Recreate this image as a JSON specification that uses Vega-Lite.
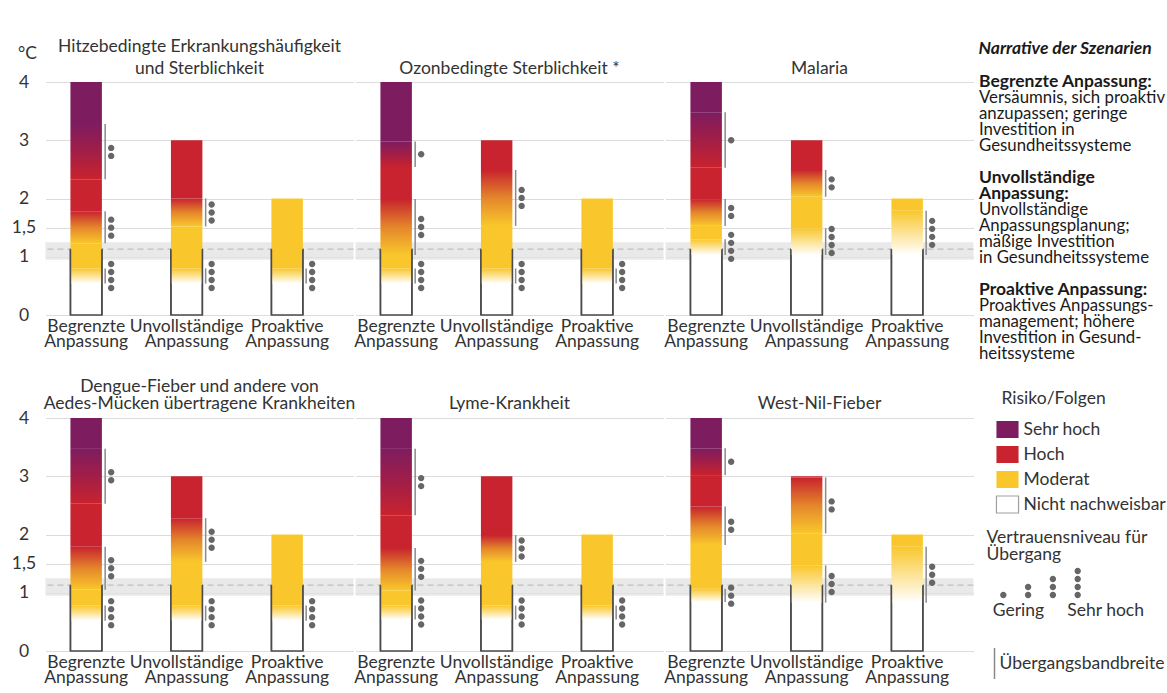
{
  "$schema": "https://vega.github.io/schema/vega-lite/v6.json",
  "padding": {"left": 10.5, "top": 37, "right": 0, "bottom": 0},
  "background": "white",
  "config": {
    "font": "Lato",
    "view": {"stroke": null},
    "axisX": {"domain": false, "ticks": false, "grid": false, "labelFontSize": 17.5, "labelColor": "#333333", "labelPadding": 1, "labelLineHeight": 15.5, "labelAngle": 0, "labelOverlap": false},
    "axisY": {"domain": false, "ticks": false, "grid": true, "gridColor": "#dcdcdc", "gridWidth": 1, "labelFontSize": 17.5, "labelColor": "#333333", "labelAlign": "center", "labelPadding": 21,
      "titleAngle": 0, "titleAlign": "left", "titleAnchor": "end", "titleBaseline": "alphabetic", "titleX": -27, "titleY": -24, "titleFontSize": 17.5, "titleFontWeight": "normal", "titleColor": "#333333"},
    "header": {"labelFont": "Lato", "labelFontSize": 17.5, "labelColor": "#333333", "labelBaseline": "bottom", "labelLimit": 0}
  },
  "resolve": {"scale": {"color": "independent", "shape": "independent", "stroke": "independent"}},
  "datasets": {
    "main": [
      {"k":"bar","r":1,"p":"Hitzebedingte Erkrankungshäufigkeit\nund Sterblichkeit","s":"Begrenzte Anpassung"},
      {"k":"bar","r":1,"p":"Hitzebedingte Erkrankungshäufigkeit\nund Sterblichkeit","s":"Unvollständige Anpassung"},
      {"k":"bar","r":1,"p":"Hitzebedingte Erkrankungshäufigkeit\nund Sterblichkeit","s":"Proaktive Anpassung"},
      {"k":"seg","r":1,"p":"Hitzebedingte Erkrankungshäufigkeit\nund Sterblichkeit","s":"Begrenzte Anpassung","lo":0.80,"hi":1.23,"c":"Moderat"},
      {"k":"seg","r":1,"p":"Hitzebedingte Erkrankungshäufigkeit\nund Sterblichkeit","s":"Begrenzte Anpassung","lo":1.78,"hi":2.33,"c":"Hoch"},
      {"k":"seg","r":1,"p":"Hitzebedingte Erkrankungshäufigkeit\nund Sterblichkeit","s":"Begrenzte Anpassung","lo":3.28,"hi":4,"c":"Sehr hoch"},
      {"k":"seg","r":1,"p":"Hitzebedingte Erkrankungshäufigkeit\nund Sterblichkeit","s":"Unvollständige Anpassung","lo":0.80,"hi":1.52,"c":"Moderat"},
      {"k":"seg","r":1,"p":"Hitzebedingte Erkrankungshäufigkeit\nund Sterblichkeit","s":"Unvollständige Anpassung","lo":2.0,"hi":3,"c":"Hoch"},
      {"k":"seg","r":1,"p":"Hitzebedingte Erkrankungshäufigkeit\nund Sterblichkeit","s":"Proaktive Anpassung","lo":0.80,"hi":2,"c":"Moderat"},
      {"k":"tr","r":1,"p":"Hitzebedingte Erkrankungshäufigkeit\nund Sterblichkeit","s":"Begrenzte Anpassung","typ":"W-Y","lo":0.54,"hi":0.80,"mid":0.67,"conf":4},
      {"k":"tr","r":1,"p":"Hitzebedingte Erkrankungshäufigkeit\nund Sterblichkeit","s":"Begrenzte Anpassung","typ":"Y-R","lo":1.23,"hi":1.78,"mid":1.5,"conf":3},
      {"k":"tr","r":1,"p":"Hitzebedingte Erkrankungshäufigkeit\nund Sterblichkeit","s":"Begrenzte Anpassung","typ":"R-P","lo":2.33,"hi":3.28,"mid":2.8,"conf":2},
      {"k":"tr","r":1,"p":"Hitzebedingte Erkrankungshäufigkeit\nund Sterblichkeit","s":"Unvollständige Anpassung","typ":"W-Y","lo":0.54,"hi":0.80,"mid":0.67,"conf":4},
      {"k":"tr","r":1,"p":"Hitzebedingte Erkrankungshäufigkeit\nund Sterblichkeit","s":"Unvollständige Anpassung","typ":"Y-R","lo":1.52,"hi":2.0,"mid":1.76,"conf":3},
      {"k":"tr","r":1,"p":"Hitzebedingte Erkrankungshäufigkeit\nund Sterblichkeit","s":"Proaktive Anpassung","typ":"W-Y","lo":0.54,"hi":0.80,"mid":0.67,"conf":4},

      {"k":"bar","r":1,"p":"Ozonbedingte Sterblichkeit *","s":"Begrenzte Anpassung"},
      {"k":"bar","r":1,"p":"Ozonbedingte Sterblichkeit *","s":"Unvollständige Anpassung"},
      {"k":"bar","r":1,"p":"Ozonbedingte Sterblichkeit *","s":"Proaktive Anpassung"},
      {"k":"seg","r":1,"p":"Ozonbedingte Sterblichkeit *","s":"Begrenzte Anpassung","lo":0.80,"hi":1.03,"c":"Moderat"},
      {"k":"seg","r":1,"p":"Ozonbedingte Sterblichkeit *","s":"Begrenzte Anpassung","lo":1.99,"hi":2.54,"c":"Hoch"},
      {"k":"seg","r":1,"p":"Ozonbedingte Sterblichkeit *","s":"Begrenzte Anpassung","lo":2.98,"hi":4,"c":"Sehr hoch"},
      {"k":"seg","r":1,"p":"Ozonbedingte Sterblichkeit *","s":"Unvollständige Anpassung","lo":0.80,"hi":1.53,"c":"Moderat"},
      {"k":"seg","r":1,"p":"Ozonbedingte Sterblichkeit *","s":"Unvollständige Anpassung","lo":2.49,"hi":3,"c":"Hoch"},
      {"k":"seg","r":1,"p":"Ozonbedingte Sterblichkeit *","s":"Proaktive Anpassung","lo":0.80,"hi":2,"c":"Moderat"},
      {"k":"tr","r":1,"p":"Ozonbedingte Sterblichkeit *","s":"Begrenzte Anpassung","typ":"W-Y","lo":0.54,"hi":0.80,"mid":0.67,"conf":4},
      {"k":"tr","r":1,"p":"Ozonbedingte Sterblichkeit *","s":"Begrenzte Anpassung","typ":"Y-R","lo":1.03,"hi":1.99,"mid":1.51,"conf":3},
      {"k":"tr","r":1,"p":"Ozonbedingte Sterblichkeit *","s":"Begrenzte Anpassung","typ":"R-P","lo":2.54,"hi":2.98,"mid":2.76,"conf":1},
      {"k":"tr","r":1,"p":"Ozonbedingte Sterblichkeit *","s":"Unvollständige Anpassung","typ":"W-Y","lo":0.54,"hi":0.80,"mid":0.67,"conf":4},
      {"k":"tr","r":1,"p":"Ozonbedingte Sterblichkeit *","s":"Unvollständige Anpassung","typ":"Y-R","lo":1.53,"hi":2.49,"mid":2.01,"conf":3},
      {"k":"tr","r":1,"p":"Ozonbedingte Sterblichkeit *","s":"Proaktive Anpassung","typ":"W-Y","lo":0.54,"hi":0.80,"mid":0.67,"conf":4},

      {"k":"bar","r":1,"p":"Malaria","s":"Begrenzte Anpassung"},
      {"k":"bar","r":1,"p":"Malaria","s":"Unvollständige Anpassung"},
      {"k":"bar","r":1,"p":"Malaria","s":"Proaktive Anpassung"},
      {"k":"seg","r":1,"p":"Malaria","s":"Begrenzte Anpassung","lo":1.30,"hi":1.53,"c":"Moderat"},
      {"k":"seg","r":1,"p":"Malaria","s":"Begrenzte Anpassung","lo":1.99,"hi":2.53,"c":"Hoch"},
      {"k":"seg","r":1,"p":"Malaria","s":"Begrenzte Anpassung","lo":3.48,"hi":4,"c":"Sehr hoch"},
      {"k":"seg","r":1,"p":"Malaria","s":"Unvollständige Anpassung","lo":1.49,"hi":2.03,"c":"Moderat"},
      {"k":"seg","r":1,"p":"Malaria","s":"Unvollständige Anpassung","lo":2.49,"hi":3,"c":"Hoch"},
      {"k":"seg","r":1,"p":"Malaria","s":"Proaktive Anpassung","lo":1.79,"hi":2,"c":"Moderat"},
      {"k":"tr","r":1,"p":"Malaria","s":"Begrenzte Anpassung","typ":"W-Y","lo":1.03,"hi":1.30,"mid":1.17,"conf":4},
      {"k":"tr","r":1,"p":"Malaria","s":"Begrenzte Anpassung","typ":"Y-R","lo":1.53,"hi":1.99,"mid":1.77,"conf":2},
      {"k":"tr","r":1,"p":"Malaria","s":"Begrenzte Anpassung","typ":"R-P","lo":2.53,"hi":3.48,"mid":3.0,"conf":1},
      {"k":"tr","r":1,"p":"Malaria","s":"Unvollständige Anpassung","typ":"W-Y","lo":1.03,"hi":1.49,"mid":1.27,"conf":4},
      {"k":"tr","r":1,"p":"Malaria","s":"Unvollständige Anpassung","typ":"Y-R","lo":2.03,"hi":2.49,"mid":2.26,"conf":2},
      {"k":"tr","r":1,"p":"Malaria","s":"Proaktive Anpassung","typ":"W-Y","lo":1.03,"hi":1.79,"mid":1.41,"conf":4},

      {"k":"bar","r":2,"p":"Dengue-Fieber und andere von\nAedes-Mücken übertragene Krankheiten","s":"Begrenzte Anpassung"},
      {"k":"bar","r":2,"p":"Dengue-Fieber und andere von\nAedes-Mücken übertragene Krankheiten","s":"Unvollständige Anpassung"},
      {"k":"bar","r":2,"p":"Dengue-Fieber und andere von\nAedes-Mücken übertragene Krankheiten","s":"Proaktive Anpassung"},
      {"k":"seg","r":2,"p":"Dengue-Fieber und andere von\nAedes-Mücken übertragene Krankheiten","s":"Begrenzte Anpassung","lo":0.78,"hi":1.05,"c":"Moderat"},
      {"k":"seg","r":2,"p":"Dengue-Fieber und andere von\nAedes-Mücken übertragene Krankheiten","s":"Begrenzte Anpassung","lo":1.79,"hi":2.53,"c":"Hoch"},
      {"k":"seg","r":2,"p":"Dengue-Fieber und andere von\nAedes-Mücken übertragene Krankheiten","s":"Begrenzte Anpassung","lo":3.47,"hi":4,"c":"Sehr hoch"},
      {"k":"seg","r":2,"p":"Dengue-Fieber und andere von\nAedes-Mücken übertragene Krankheiten","s":"Unvollständige Anpassung","lo":0.78,"hi":1.53,"c":"Moderat"},
      {"k":"seg","r":2,"p":"Dengue-Fieber und andere von\nAedes-Mücken übertragene Krankheiten","s":"Unvollständige Anpassung","lo":2.28,"hi":3,"c":"Hoch"},
      {"k":"seg","r":2,"p":"Dengue-Fieber und andere von\nAedes-Mücken übertragene Krankheiten","s":"Proaktive Anpassung","lo":0.78,"hi":2,"c":"Moderat"},
      {"k":"tr","r":2,"p":"Dengue-Fieber und andere von\nAedes-Mücken übertragene Krankheiten","s":"Begrenzte Anpassung","typ":"W-Y","lo":0.52,"hi":0.78,"mid":0.65,"conf":4},
      {"k":"tr","r":2,"p":"Dengue-Fieber und andere von\nAedes-Mücken übertragene Krankheiten","s":"Begrenzte Anpassung","typ":"Y-R","lo":1.05,"hi":1.79,"mid":1.42,"conf":3},
      {"k":"tr","r":2,"p":"Dengue-Fieber und andere von\nAedes-Mücken übertragene Krankheiten","s":"Begrenzte Anpassung","typ":"R-P","lo":2.53,"hi":3.47,"mid":3.0,"conf":2},
      {"k":"tr","r":2,"p":"Dengue-Fieber und andere von\nAedes-Mücken übertragene Krankheiten","s":"Unvollständige Anpassung","typ":"W-Y","lo":0.52,"hi":0.78,"mid":0.65,"conf":4},
      {"k":"tr","r":2,"p":"Dengue-Fieber und andere von\nAedes-Mücken übertragene Krankheiten","s":"Unvollständige Anpassung","typ":"Y-R","lo":1.53,"hi":2.28,"mid":1.91,"conf":3},
      {"k":"tr","r":2,"p":"Dengue-Fieber und andere von\nAedes-Mücken übertragene Krankheiten","s":"Proaktive Anpassung","typ":"W-Y","lo":0.52,"hi":0.78,"mid":0.65,"conf":4},

      {"k":"bar","r":2,"p":"Lyme-Krankheit","s":"Begrenzte Anpassung"},
      {"k":"bar","r":2,"p":"Lyme-Krankheit","s":"Unvollständige Anpassung"},
      {"k":"bar","r":2,"p":"Lyme-Krankheit","s":"Proaktive Anpassung"},
      {"k":"seg","r":2,"p":"Lyme-Krankheit","s":"Begrenzte Anpassung","lo":0.78,"hi":1.04,"c":"Moderat"},
      {"k":"seg","r":2,"p":"Lyme-Krankheit","s":"Begrenzte Anpassung","lo":1.77,"hi":2.33,"c":"Hoch"},
      {"k":"seg","r":2,"p":"Lyme-Krankheit","s":"Begrenzte Anpassung","lo":3.47,"hi":4,"c":"Sehr hoch"},
      {"k":"seg","r":2,"p":"Lyme-Krankheit","s":"Unvollständige Anpassung","lo":0.78,"hi":1.53,"c":"Moderat"},
      {"k":"seg","r":2,"p":"Lyme-Krankheit","s":"Unvollständige Anpassung","lo":1.99,"hi":3,"c":"Hoch"},
      {"k":"seg","r":2,"p":"Lyme-Krankheit","s":"Proaktive Anpassung","lo":0.78,"hi":2,"c":"Moderat"},
      {"k":"tr","r":2,"p":"Lyme-Krankheit","s":"Begrenzte Anpassung","typ":"W-Y","lo":0.54,"hi":0.78,"mid":0.66,"conf":4},
      {"k":"tr","r":2,"p":"Lyme-Krankheit","s":"Begrenzte Anpassung","typ":"Y-R","lo":1.04,"hi":1.77,"mid":1.41,"conf":3},
      {"k":"tr","r":2,"p":"Lyme-Krankheit","s":"Begrenzte Anpassung","typ":"R-P","lo":2.33,"hi":3.47,"mid":2.9,"conf":2},
      {"k":"tr","r":2,"p":"Lyme-Krankheit","s":"Unvollständige Anpassung","typ":"W-Y","lo":0.54,"hi":0.78,"mid":0.66,"conf":4},
      {"k":"tr","r":2,"p":"Lyme-Krankheit","s":"Unvollständige Anpassung","typ":"Y-R","lo":1.53,"hi":1.99,"mid":1.76,"conf":3},
      {"k":"tr","r":2,"p":"Lyme-Krankheit","s":"Proaktive Anpassung","typ":"W-Y","lo":0.54,"hi":0.78,"mid":0.66,"conf":4},

      {"k":"bar","r":2,"p":"West-Nil-Fieber","s":"Begrenzte Anpassung"},
      {"k":"bar","r":2,"p":"West-Nil-Fieber","s":"Unvollständige Anpassung"},
      {"k":"bar","r":2,"p":"West-Nil-Fieber","s":"Proaktive Anpassung"},
      {"k":"seg","r":2,"p":"West-Nil-Fieber","s":"Begrenzte Anpassung","lo":1.07,"hi":1.82,"c":"Moderat"},
      {"k":"seg","r":2,"p":"West-Nil-Fieber","s":"Begrenzte Anpassung","lo":2.48,"hi":3.02,"c":"Hoch"},
      {"k":"seg","r":2,"p":"West-Nil-Fieber","s":"Begrenzte Anpassung","lo":3.48,"hi":4,"c":"Sehr hoch"},
      {"k":"seg","r":2,"p":"West-Nil-Fieber","s":"Unvollständige Anpassung","lo":1.47,"hi":2.02,"c":"Moderat"},
      {"k":"seg","r":2,"p":"West-Nil-Fieber","s":"Unvollständige Anpassung","lo":2.98,"hi":3,"c":"Hoch"},
      {"k":"seg","r":2,"p":"West-Nil-Fieber","s":"Proaktive Anpassung","lo":1.79,"hi":2,"c":"Moderat"},
      {"k":"tr","r":2,"p":"West-Nil-Fieber","s":"Begrenzte Anpassung","typ":"W-Y","lo":0.84,"hi":1.07,"mid":0.95,"conf":3},
      {"k":"tr","r":2,"p":"West-Nil-Fieber","s":"Begrenzte Anpassung","typ":"Y-R","lo":1.82,"hi":2.48,"mid":2.15,"conf":2},
      {"k":"tr","r":2,"p":"West-Nil-Fieber","s":"Begrenzte Anpassung","typ":"R-P","lo":3.02,"hi":3.48,"mid":3.25,"conf":1},
      {"k":"tr","r":2,"p":"West-Nil-Fieber","s":"Unvollständige Anpassung","typ":"W-Y","lo":0.83,"hi":1.47,"mid":1.15,"conf":3},
      {"k":"tr","r":2,"p":"West-Nil-Fieber","s":"Unvollständige Anpassung","typ":"Y-R","lo":2.02,"hi":2.98,"mid":2.5,"conf":2},
      {"k":"tr","r":2,"p":"West-Nil-Fieber","s":"Proaktive Anpassung","typ":"W-Y","lo":0.83,"hi":1.79,"mid":1.31,"conf":3}
    ],
    "narr": [
      {"n":2,"w":"b","t":"Begrenzte Anpassung:"},
      {"n":3,"w":"t","t":"Versäumnis, sich proaktiv"},
      {"n":4,"w":"t","t":"anzupassen; geringe"},
      {"n":5,"w":"t","t":"Investition in"},
      {"n":6,"w":"t","t":"Gesundheitssysteme"},
      {"n":8,"w":"b","t":"Unvollständige"},
      {"n":9,"w":"b","t":"Anpassung:"},
      {"n":10,"w":"t","t":"Unvollständige"},
      {"n":11,"w":"t","t":"Anpassungsplanung;"},
      {"n":12,"w":"t","t":"mäßige Investition"},
      {"n":13,"w":"t","t":"in Gesundheitssysteme"},
      {"n":15,"w":"b","t":"Proaktive Anpassung:"},
      {"n":16,"w":"t","t":"Proaktives Anpassungs-"},
      {"n":17,"w":"t","t":"management; höhere"},
      {"n":18,"w":"t","t":"Investition in Gesund-"},
      {"n":19,"w":"t","t":"heitssysteme"}
    ]
  },
  "spacing": 4,
  "hconcat": [
    {
      "spacing": 27,
      "vconcat": [
        {
          "data": {"name": "main"},
          "transform": [{"filter": "datum.r == 1"}],
          "facet": {"column": {"field": "p", "type": "nominal", "title": null,
            "sort": ["Hitzebedingte Erkrankungshäufigkeit\nund Sterblichkeit", "Ozonbedingte Sterblichkeit *", "Malaria"],
            "header": {"labelExpr": "split(datum.value, '\\n')", "labelLineHeight": 22, "labelPadding": -13}}},
          "spacing": 0,
          "spec": {
            "width": 308,
            "height": 233,
            "layer": [
              {
                "transform": [{"filter": "datum.k == 'bar' && datum.s == 'Begrenzte Anpassung'"}],
                "mark": {"type": "rect", "fill": "#e2e2e2", "fillOpacity": 0.75},
                "encoding": {
                  "y": {"datum": 0.95, "type": "quantitative", "scale": {"domain": [0, 4], "nice": false}, "title": "°C", "axis": {"values": [0, 1, 1.5, 2, 3, 4], "format": "~g", "labelExpr": "replace(datum.label, '.', ',')"}},
                  "y2": {"datum": 1.25}
                }
              },
              {
                "transform": [{"filter": "datum.k == 'bar' && datum.s == 'Begrenzte Anpassung'"}],
                "mark": {"type": "rule", "stroke": "#c0c0c0", "strokeWidth": 1.2, "strokeDash": [6, 4]},
                "encoding": {
                  "y": {"datum": 1.13, "type": "quantitative", "scale": {"domain": [0, 4], "nice": false}, "title": "°C", "axis": {"values": [0, 1, 1.5, 2, 3, 4], "format": "~g", "labelExpr": "replace(datum.label, '.', ',')"}}
                }
              },
              {
                "encoding": {
                  "x": {"field": "s", "type": "nominal", "title": null,
                    "sort": ["Begrenzte Anpassung", "Unvollständige Anpassung", "Proaktive Anpassung"],
                    "scale": {"paddingInner": 0.687, "paddingOuter": 0.376, "align": 0.33},
                    "axis": {"labelExpr": "split(datum.label, ' ')"}}
                },
                "layer": [
                  {
                    "transform": [{"filter": "datum.k == 'bar'"}],
                    "mark": {"type": "bar", "fill": "#ffffff", "stroke": "#4a4a4a", "strokeWidth": 1.5},
                    "encoding": {
                      "y": {"datum": 0, "type": "quantitative", "scale": {"domain": [0, 4], "nice": false}, "title": "°C", "axis": {"values": [0, 1, 1.5, 2, 3, 4], "format": "~g", "labelExpr": "replace(datum.label, '.', ',')"}},
                      "y2": {"datum": 1.13}
                    }
                  },
                  {
                    "transform": [{"filter": "datum.k == 'seg'"}],
                    "mark": {"type": "bar"},
                    "encoding": {
                      "y": {"field": "lo", "type": "quantitative", "scale": {"domain": [0, 4], "nice": false}, "title": "°C", "axis": {"values": [0, 1, 1.5, 2, 3, 4], "format": "~g", "labelExpr": "replace(datum.label, '.', ',')"}},
                      "y2": {"field": "hi"},
                      "color": {"field": "c", "type": "nominal", "legend": null,
                        "scale": {"domain": ["Sehr hoch", "Hoch", "Moderat", "Nicht nachweisbar"], "range": ["#7e1c60", "#c8232e", "#f9c72c", "#ffffff"]}}
                    }
                  },
                  {
                    "transform": [{"filter": "datum.k == 'tr' && datum.typ == 'W-Y'"}],
                    "mark": {"type": "bar", "fill": {"gradient": "linear", "x1": 0, "y1": 1, "x2": 0, "y2": 0, "stops": [{"offset": 0, "color": "#ffffff"}, {"offset": 1, "color": "#f9c72c"}]}},
                    "encoding": {
                      "y": {"field": "lo", "type": "quantitative", "scale": {"domain": [0, 4], "nice": false}, "title": "°C", "axis": {"values": [0, 1, 1.5, 2, 3, 4], "format": "~g", "labelExpr": "replace(datum.label, '.', ',')"}},
                      "y2": {"field": "hi"}
                    }
                  },
                  {
                    "transform": [{"filter": "datum.k == 'tr' && datum.typ == 'Y-R'"}],
                    "mark": {"type": "bar", "fill": {"gradient": "linear", "x1": 0, "y1": 1, "x2": 0, "y2": 0, "stops": [{"offset": 0, "color": "#f9c72c"}, {"offset": 0.5, "color": "#e4862b"}, {"offset": 1, "color": "#c8232e"}]}},
                    "encoding": {
                      "y": {"field": "lo", "type": "quantitative", "scale": {"domain": [0, 4], "nice": false}, "title": "°C", "axis": {"values": [0, 1, 1.5, 2, 3, 4], "format": "~g", "labelExpr": "replace(datum.label, '.', ',')"}},
                      "y2": {"field": "hi"}
                    }
                  },
                  {
                    "transform": [{"filter": "datum.k == 'tr' && datum.typ == 'R-P'"}],
                    "mark": {"type": "bar", "fill": {"gradient": "linear", "x1": 0, "y1": 1, "x2": 0, "y2": 0, "stops": [{"offset": 0, "color": "#c8232e"}, {"offset": 0.5, "color": "#a21e47"}, {"offset": 1, "color": "#7e1c60"}]}},
                    "encoding": {
                      "y": {"field": "lo", "type": "quantitative", "scale": {"domain": [0, 4], "nice": false}, "title": "°C", "axis": {"values": [0, 1, 1.5, 2, 3, 4], "format": "~g", "labelExpr": "replace(datum.label, '.', ',')"}},
                      "y2": {"field": "hi"}
                    }
                  },
                  {
                    "transform": [{"filter": "datum.k == 'bar'"}],
                    "mark": {"type": "rule", "stroke": "#4a4a4a", "strokeWidth": 1.5, "xOffset": -15.7},
                    "encoding": {
                      "y": {"datum": 0, "type": "quantitative", "scale": {"domain": [0, 4], "nice": false}, "title": "°C", "axis": {"values": [0, 1, 1.5, 2, 3, 4], "format": "~g", "labelExpr": "replace(datum.label, '.', ',')"}},
                      "y2": {"datum": 1.13}
                    }
                  },
                  {
                    "transform": [{"filter": "datum.k == 'bar'"}],
                    "mark": {"type": "rule", "stroke": "#4a4a4a", "strokeWidth": 1.5, "xOffset": 15.7},
                    "encoding": {
                      "y": {"datum": 0, "type": "quantitative", "scale": {"domain": [0, 4], "nice": false}, "title": "°C", "axis": {"values": [0, 1, 1.5, 2, 3, 4], "format": "~g", "labelExpr": "replace(datum.label, '.', ',')"}},
                      "y2": {"datum": 1.13}
                    }
                  },
                  {
                    "transform": [{"filter": "datum.k == 'tr'"}],
                    "mark": {"type": "rule", "stroke": "#8a8a8a", "strokeWidth": 1.5, "xOffset": 19},
                    "encoding": {
                      "y": {"field": "lo", "type": "quantitative", "scale": {"domain": [0, 4], "nice": false}, "title": "°C", "axis": {"values": [0, 1, 1.5, 2, 3, 4], "format": "~g", "labelExpr": "replace(datum.label, '.', ',')"}},
                      "y2": {"field": "hi"}
                    }
                  },
                  {
                    "transform": [{"filter": "datum.k == 'tr'"}],
                    "mark": {"type": "point", "filled": true, "opacity": 1, "fill": "#666666", "strokeWidth": 0, "size": 64, "xOffset": 25},
                    "encoding": {
                      "y": {"field": "mid", "type": "quantitative", "scale": {"domain": [0, 4], "nice": false}, "title": "°C", "axis": {"values": [0, 1, 1.5, 2, 3, 4], "format": "~g", "labelExpr": "replace(datum.label, '.', ',')"}},
                      "shape": {"field": "conf", "type": "ordinal", "legend": null,
                        "scale": {"domain": [1, 2, 3, 4], "range": [
                          "M-0.8,0A0.8,0.8,0,1,0,0.8,0A0.8,0.8,0,1,0,-0.8,0Z",
                          "M-0.8,-1A0.8,0.8,0,1,0,0.8,-1A0.8,0.8,0,1,0,-0.8,-1ZM-0.8,1A0.8,0.8,0,1,0,0.8,1A0.8,0.8,0,1,0,-0.8,1Z",
                          "M-0.8,-2A0.8,0.8,0,1,0,0.8,-2A0.8,0.8,0,1,0,-0.8,-2ZM-0.8,0A0.8,0.8,0,1,0,0.8,0A0.8,0.8,0,1,0,-0.8,0ZM-0.8,2A0.8,0.8,0,1,0,0.8,2A0.8,0.8,0,1,0,-0.8,2Z",
                          "M-0.8,-3A0.8,0.8,0,1,0,0.8,-3A0.8,0.8,0,1,0,-0.8,-3ZM-0.8,-1A0.8,0.8,0,1,0,0.8,-1A0.8,0.8,0,1,0,-0.8,-1ZM-0.8,1A0.8,0.8,0,1,0,0.8,1A0.8,0.8,0,1,0,-0.8,1ZM-0.8,3A0.8,0.8,0,1,0,0.8,3A0.8,0.8,0,1,0,-0.8,3Z"
                        ]}}
                    }
                  }
                ]
              }
            ]
          }
        },
        {
          "data": {"name": "main"},
          "transform": [{"filter": "datum.r == 2"}],
          "facet": {"column": {"field": "p", "type": "nominal", "title": null,
            "sort": ["Dengue-Fieber und andere von\nAedes-Mücken übertragene Krankheiten", "Lyme-Krankheit", "West-Nil-Fieber"],
            "header": {"labelExpr": "split(datum.value, '\\n')", "labelLineHeight": 17, "labelPadding": -12}}},
          "spacing": 0,
          "spec": {
            "width": 308,
            "height": 233,
            "layer": [
              {
                "transform": [{"filter": "datum.k == 'bar' && datum.s == 'Begrenzte Anpassung'"}],
                "mark": {"type": "rect", "fill": "#e2e2e2", "fillOpacity": 0.75},
                "encoding": {
                  "y": {"datum": 0.95, "type": "quantitative", "scale": {"domain": [0, 4], "nice": false}, "title": null, "axis": {"values": [0, 1, 1.5, 2, 3, 4], "format": "~g", "labelExpr": "replace(datum.label, '.', ',')"}},
                  "y2": {"datum": 1.25}
                }
              },
              {
                "transform": [{"filter": "datum.k == 'bar' && datum.s == 'Begrenzte Anpassung'"}],
                "mark": {"type": "rule", "stroke": "#c0c0c0", "strokeWidth": 1.2, "strokeDash": [6, 4]},
                "encoding": {
                  "y": {"datum": 1.13, "type": "quantitative", "scale": {"domain": [0, 4], "nice": false}, "title": null, "axis": {"values": [0, 1, 1.5, 2, 3, 4], "format": "~g", "labelExpr": "replace(datum.label, '.', ',')"}}
                }
              },
              {
                "encoding": {
                  "x": {"field": "s", "type": "nominal", "title": null,
                    "sort": ["Begrenzte Anpassung", "Unvollständige Anpassung", "Proaktive Anpassung"],
                    "scale": {"paddingInner": 0.687, "paddingOuter": 0.376, "align": 0.33},
                    "axis": {"labelExpr": "split(datum.label, ' ')"}}
                },
                "layer": [
                  {
                    "transform": [{"filter": "datum.k == 'bar'"}],
                    "mark": {"type": "bar", "fill": "#ffffff", "stroke": "#4a4a4a", "strokeWidth": 1.5},
                    "encoding": {
                      "y": {"datum": 0, "type": "quantitative", "scale": {"domain": [0, 4], "nice": false}, "title": null, "axis": {"values": [0, 1, 1.5, 2, 3, 4], "format": "~g", "labelExpr": "replace(datum.label, '.', ',')"}},
                      "y2": {"datum": 1.13}
                    }
                  },
                  {
                    "transform": [{"filter": "datum.k == 'seg'"}],
                    "mark": {"type": "bar"},
                    "encoding": {
                      "y": {"field": "lo", "type": "quantitative", "scale": {"domain": [0, 4], "nice": false}, "title": null, "axis": {"values": [0, 1, 1.5, 2, 3, 4], "format": "~g", "labelExpr": "replace(datum.label, '.', ',')"}},
                      "y2": {"field": "hi"},
                      "color": {"field": "c", "type": "nominal", "legend": null,
                        "scale": {"domain": ["Sehr hoch", "Hoch", "Moderat", "Nicht nachweisbar"], "range": ["#7e1c60", "#c8232e", "#f9c72c", "#ffffff"]}}
                    }
                  },
                  {
                    "transform": [{"filter": "datum.k == 'tr' && datum.typ == 'W-Y'"}],
                    "mark": {"type": "bar", "fill": {"gradient": "linear", "x1": 0, "y1": 1, "x2": 0, "y2": 0, "stops": [{"offset": 0, "color": "#ffffff"}, {"offset": 1, "color": "#f9c72c"}]}},
                    "encoding": {
                      "y": {"field": "lo", "type": "quantitative", "scale": {"domain": [0, 4], "nice": false}, "title": null, "axis": {"values": [0, 1, 1.5, 2, 3, 4], "format": "~g", "labelExpr": "replace(datum.label, '.', ',')"}},
                      "y2": {"field": "hi"}
                    }
                  },
                  {
                    "transform": [{"filter": "datum.k == 'tr' && datum.typ == 'Y-R'"}],
                    "mark": {"type": "bar", "fill": {"gradient": "linear", "x1": 0, "y1": 1, "x2": 0, "y2": 0, "stops": [{"offset": 0, "color": "#f9c72c"}, {"offset": 0.5, "color": "#e4862b"}, {"offset": 1, "color": "#c8232e"}]}},
                    "encoding": {
                      "y": {"field": "lo", "type": "quantitative", "scale": {"domain": [0, 4], "nice": false}, "title": null, "axis": {"values": [0, 1, 1.5, 2, 3, 4], "format": "~g", "labelExpr": "replace(datum.label, '.', ',')"}},
                      "y2": {"field": "hi"}
                    }
                  },
                  {
                    "transform": [{"filter": "datum.k == 'tr' && datum.typ == 'R-P'"}],
                    "mark": {"type": "bar", "fill": {"gradient": "linear", "x1": 0, "y1": 1, "x2": 0, "y2": 0, "stops": [{"offset": 0, "color": "#c8232e"}, {"offset": 0.5, "color": "#a21e47"}, {"offset": 1, "color": "#7e1c60"}]}},
                    "encoding": {
                      "y": {"field": "lo", "type": "quantitative", "scale": {"domain": [0, 4], "nice": false}, "title": null, "axis": {"values": [0, 1, 1.5, 2, 3, 4], "format": "~g", "labelExpr": "replace(datum.label, '.', ',')"}},
                      "y2": {"field": "hi"}
                    }
                  },
                  {
                    "transform": [{"filter": "datum.k == 'bar'"}],
                    "mark": {"type": "rule", "stroke": "#4a4a4a", "strokeWidth": 1.5, "xOffset": -15.7},
                    "encoding": {
                      "y": {"datum": 0, "type": "quantitative", "scale": {"domain": [0, 4], "nice": false}, "title": null, "axis": {"values": [0, 1, 1.5, 2, 3, 4], "format": "~g", "labelExpr": "replace(datum.label, '.', ',')"}},
                      "y2": {"datum": 1.13}
                    }
                  },
                  {
                    "transform": [{"filter": "datum.k == 'bar'"}],
                    "mark": {"type": "rule", "stroke": "#4a4a4a", "strokeWidth": 1.5, "xOffset": 15.7},
                    "encoding": {
                      "y": {"datum": 0, "type": "quantitative", "scale": {"domain": [0, 4], "nice": false}, "title": null, "axis": {"values": [0, 1, 1.5, 2, 3, 4], "format": "~g", "labelExpr": "replace(datum.label, '.', ',')"}},
                      "y2": {"datum": 1.13}
                    }
                  },
                  {
                    "transform": [{"filter": "datum.k == 'tr'"}],
                    "mark": {"type": "rule", "stroke": "#8a8a8a", "strokeWidth": 1.5, "xOffset": 19},
                    "encoding": {
                      "y": {"field": "lo", "type": "quantitative", "scale": {"domain": [0, 4], "nice": false}, "title": null, "axis": {"values": [0, 1, 1.5, 2, 3, 4], "format": "~g", "labelExpr": "replace(datum.label, '.', ',')"}},
                      "y2": {"field": "hi"}
                    }
                  },
                  {
                    "transform": [{"filter": "datum.k == 'tr'"}],
                    "mark": {"type": "point", "filled": true, "opacity": 1, "fill": "#666666", "strokeWidth": 0, "size": 64, "xOffset": 25},
                    "encoding": {
                      "y": {"field": "mid", "type": "quantitative", "scale": {"domain": [0, 4], "nice": false}, "title": null, "axis": {"values": [0, 1, 1.5, 2, 3, 4], "format": "~g", "labelExpr": "replace(datum.label, '.', ',')"}},
                      "shape": {"field": "conf", "type": "ordinal", "legend": null,
                        "scale": {"domain": [1, 2, 3, 4], "range": [
                          "M-0.8,0A0.8,0.8,0,1,0,0.8,0A0.8,0.8,0,1,0,-0.8,0Z",
                          "M-0.8,-1A0.8,0.8,0,1,0,0.8,-1A0.8,0.8,0,1,0,-0.8,-1ZM-0.8,1A0.8,0.8,0,1,0,0.8,1A0.8,0.8,0,1,0,-0.8,1Z",
                          "M-0.8,-2A0.8,0.8,0,1,0,0.8,-2A0.8,0.8,0,1,0,-0.8,-2ZM-0.8,0A0.8,0.8,0,1,0,0.8,0A0.8,0.8,0,1,0,-0.8,0ZM-0.8,2A0.8,0.8,0,1,0,0.8,2A0.8,0.8,0,1,0,-0.8,2Z",
                          "M-0.8,-3A0.8,0.8,0,1,0,0.8,-3A0.8,0.8,0,1,0,-0.8,-3ZM-0.8,-1A0.8,0.8,0,1,0,0.8,-1A0.8,0.8,0,1,0,-0.8,-1ZM-0.8,1A0.8,0.8,0,1,0,0.8,1A0.8,0.8,0,1,0,-0.8,1ZM-0.8,3A0.8,0.8,0,1,0,0.8,3A0.8,0.8,0,1,0,-0.8,3Z"
                        ]}}
                    }
                  }
                ]
              }
            ]
          }
        }
      ]
    },
    {
      "spacing": 26,
      "vconcat": [
        {
          "title": {"text": "Narrative der Szenarien", "anchor": "start", "fontSize": 17.5, "fontWeight": "bold", "fontStyle": "italic", "color": "#1a1a1a", "offset": 16},
          "data": {"name": "narr"},
          "width": 1,
          "height": 272,
          "encoding": {
            "y": {"field": "n", "type": "quantitative", "scale": {"domain": [2, 19], "reverse": true, "nice": false, "zero": false}, "axis": null},
            "text": {"field": "t"}
          },
          "layer": [
            {"transform": [{"filter": "datum.w == 'b'"}], "mark": {"type": "text", "align": "left", "baseline": "middle", "fontSize": 17.5, "fontWeight": "bold", "fill": "#1a1a1a"}},
            {"transform": [{"filter": "datum.w == 't'"}], "mark": {"type": "text", "align": "left", "baseline": "middle", "fontSize": 16.8, "fill": "#1a1a1a"}}
          ]
        },
        {
          "spacing": 27,
          "vconcat": [
            {
              "spacing": 12,
              "vconcat": [
                {
                  "title": {"text": "Risiko/Folgen", "anchor": "start", "fontSize": 17.5, "fontWeight": "normal", "color": "#333333", "dx": 23, "offset": 10},
                  "data": {"values": [{"r": "Sehr hoch"}, {"r": "Hoch"}, {"r": "Moderat"}, {"r": "Nicht nachweisbar"}]},
                  "width": 58,
                  "height": 100,
                  "encoding": {
                    "y": {"field": "r", "type": "nominal", "sort": null, "axis": null, "scale": {"domain": ["Sehr hoch", "Hoch", "Moderat", "Nicht nachweisbar"]}}
                  },
                  "layer": [
                    {
                      "mark": {"type": "point", "shape": "M-1.3,-1L1.3,-1L1.3,1L-1.3,1Z", "size": 289, "filled": true, "opacity": 1, "strokeWidth": 1.2},
                      "encoding": {
                        "color": {"field": "r", "type": "nominal", "legend": null, "scale": {"domain": ["Sehr hoch", "Hoch", "Moderat", "Nicht nachweisbar"], "range": ["#7e1c60", "#c8232e", "#f9c72c", "#ffffff"]}},
                        "stroke": {"field": "r", "type": "nominal", "legend": null, "scale": {"domain": ["Sehr hoch", "Hoch", "Moderat", "Nicht nachweisbar"], "range": ["transparent", "transparent", "transparent", "#a0a0a0"]}}
                      }
                    },
                    {
                      "mark": {"type": "text", "align": "left", "baseline": "middle", "dx": 16, "fontSize": 17.5, "fill": "#333333"},
                      "encoding": {"text": {"field": "r"}}
                    }
                  ]
                },
                {
                  "title": {"text": ["Vertrauensniveau für", "Übergang"], "anchor": "start", "fontSize": 17.5, "fontWeight": "normal", "color": "#333333", "dx": 8, "lineHeight": 17, "offset": 4},
                  "width": 124,
                  "height": 40,
                  "layer": [
                    {
                      "data": {"values": [{"conf": 1}, {"conf": 2}, {"conf": 3}, {"conf": 4}]},
                      "mark": {"type": "point", "filled": true, "opacity": 1, "fill": "#666666", "strokeWidth": 0, "size": 64},
                      "encoding": {
                        "x": {"field": "conf", "type": "quantitative", "scale": {"domain": [0, 5]}, "axis": null},
                        "shape": {"field": "conf", "type": "ordinal", "legend": null,
                          "scale": {"domain": [1, 2, 3, 4], "range": [
                            "M-0.8,0A0.8,0.8,0,1,0,0.8,0A0.8,0.8,0,1,0,-0.8,0Z",
                            "M-0.8,0A0.8,0.8,0,1,0,0.8,0A0.8,0.8,0,1,0,-0.8,0ZM-0.8,-2A0.8,0.8,0,1,0,0.8,-2A0.8,0.8,0,1,0,-0.8,-2Z",
                            "M-0.8,0A0.8,0.8,0,1,0,0.8,0A0.8,0.8,0,1,0,-0.8,0ZM-0.8,-2A0.8,0.8,0,1,0,0.8,-2A0.8,0.8,0,1,0,-0.8,-2ZM-0.8,-4A0.8,0.8,0,1,0,0.8,-4A0.8,0.8,0,1,0,-0.8,-4Z",
                            "M-0.8,0A0.8,0.8,0,1,0,0.8,0A0.8,0.8,0,1,0,-0.8,0ZM-0.8,-2A0.8,0.8,0,1,0,0.8,-2A0.8,0.8,0,1,0,-0.8,-2ZM-0.8,-4A0.8,0.8,0,1,0,0.8,-4A0.8,0.8,0,1,0,-0.8,-4ZM-0.8,-6A0.8,0.8,0,1,0,0.8,-6A0.8,0.8,0,1,0,-0.8,-6Z"
                          ]}}
                      }
                    },
                    {
                      "data": {"values": [{"conf": 1, "lab": "Gering"}, {"conf": 4, "lab": "Sehr hoch"}]},
                      "mark": {"type": "text", "align": "left", "baseline": "middle", "dx": -10.5, "dy": 16, "fontSize": 17.5, "fill": "#333333"},
                      "encoding": {
                        "x": {"field": "conf", "type": "quantitative", "scale": {"domain": [0, 5]}, "axis": null},
                        "text": {"field": "lab"}
                      }
                    }
                  ]
                }
              ]
            },
            {
              "data": {"values": [{"t": "Übergangsbandbreite"}]},
              "width": 32,
              "height": 31,
              "encoding": {
                "x": {"field": "t", "type": "nominal", "scale": {"type": "point"}, "axis": null}
              },
              "layer": [
                {"mark": {"type": "rule", "stroke": "#888888", "strokeWidth": 1.5}},
                {"mark": {"type": "text", "align": "left", "baseline": "middle", "dx": 5, "fontSize": 17.5, "fill": "#333333"}, "encoding": {"text": {"field": "t"}}}
              ]
            }
          ]
        }
      ]
    }
  ]
}
